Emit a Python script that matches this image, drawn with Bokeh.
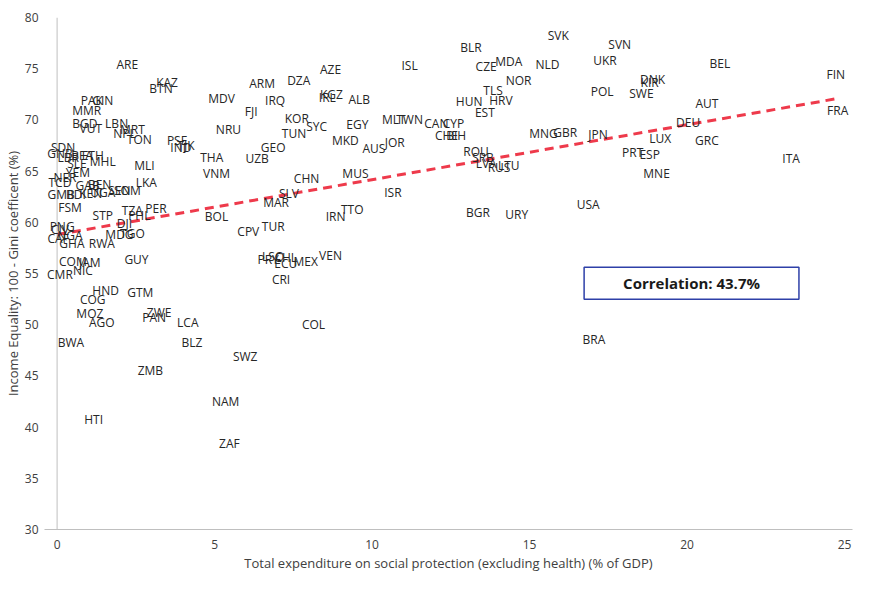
from bokeh.plotting import figure
from bokeh.models import ColumnDataSource, Range1d, LabelSet, Label, Span
from bokeh.core.properties import value
from bokeh.embed import file_html
from bokeh.resources import INLINE

codes = ["ARE","BTN","KAZ","PAK","GIN","MMR","BGD","VUT","LBN","NPL","MRT","TON","PSE","IND","TJK",
         "SDN","GNB","LBR","BFA","ETH","SLE","MHL","MLI","YEM","NER","TCD","GAB","BEN","SEN","SOM","LKA",
         "GMB","BDI","KEN","UGA","FSM","STP","TZA","PHL","PER","DJI","MDG","TGO","PNG","CIV","NGA","CAF",
         "GHA","RWA","COM","JAM","NIC","GUY","CMR","HND","GTM","COG","MOZ","AGO","ZWE","PAN","LCA","BWA",
         "BLZ","ZMB","HTI","NAM","ZAF","SWZ","COL","CRI","PRY","LSO","CHL","ECU","MEX","VEN","CPV","TUR",
         "BOL","IRN","TTO","MAR","SLV","ISR","CHN","MUS","VNM","THA","UZB","GEO","NRU","MKD","TUN","KOR",
         "SYC","EGY","FJI","MDV","IRQ","ARM","DZA","AZE","KGZ","IRL","ALB","AUS","JOR","MLT","TWN","ISL",
         "CAN","CYP","CHE","BIH","HUN","EST","TLS","HRV","BLR","CZE","MDA","NOR","NLD","SVK","SVN","UKR",
         "ROU","SRB","LVA","RUS","LTU","BGR","URY","USA","BRA","MNG","GBR","JPN","POL","SWE","DNK","KIR",
         "BEL","AUT","FIN","FRA","DEU","LUX","GRC","PRT","ESP","ITA","MNE"]

spending = [2.23,3.30,3.49,1.10,1.45,0.94,0.88,1.07,1.89,2.14,2.39,2.61,3.81,3.93,4.09,
            0.19,0.09,0.35,0.79,1.13,0.63,1.45,2.77,0.66,0.25,0.09,0.97,1.35,1.98,2.23,2.83,
            0.13,0.60,1.07,1.45,0.41,1.45,2.39,2.61,3.14,2.14,1.98,2.39,0.16,0.09,0.41,0.03,
            0.47,1.42,0.50,1.04,0.82,2.52,0.09,1.54,2.64,1.13,1.04,1.42,3.24,3.08,4.15,0.44,
            4.28,2.96,1.16,5.35,5.47,5.97,8.14,7.11,6.70,6.86,7.26,7.26,7.89,8.68,6.07,6.86,
            5.06,8.84,9.37,6.95,7.36,10.66,7.92,9.47,5.06,4.91,6.35,6.86,5.44,9.15,7.52,7.61,
            8.24,9.53,6.16,5.22,6.92,6.51,7.67,8.68,8.71,8.58,9.59,10.06,10.72,10.69,11.19,11.19,
            12.04,12.58,12.36,12.67,13.08,13.58,13.84,14.09,13.14,13.62,14.34,14.65,15.57,15.91,17.86,17.39,
            13.30,13.52,13.62,14.03,14.34,13.36,14.59,16.86,17.04,15.44,16.13,17.17,17.30,18.55,18.90,18.81,
            21.04,20.63,24.72,24.78,20.03,19.15,20.63,18.27,18.81,23.30,19.03]

equality = [75.45,73.07,73.64,71.94,71.94,70.89,69.66,69.18,69.66,68.71,69.09,68.05,67.95,67.29,67.48,
            67.29,66.72,66.34,66.53,66.53,65.77,65.96,65.58,64.82,64.35,63.87,63.59,63.68,63.11,63.11,63.87,
            62.73,62.73,62.83,62.92,61.40,60.65,61.12,60.65,61.31,59.89,58.84,58.94,59.60,59.32,58.75,58.37,
            57.89,57.89,56.19,56.09,55.33,56.38,54.86,53.34,53.15,52.49,51.06,50.21,51.16,50.68,50.21,48.22,
            48.22,45.56,40.72,42.52,38.44,46.89,50.02,54.38,56.38,56.66,56.57,56.00,56.19,56.76,59.13,59.60,
            60.55,60.55,61.21,61.97,62.83,62.92,64.25,64.72,64.72,66.34,66.24,67.29,69.09,67.95,68.71,70.13,
            69.37,69.56,70.80,72.13,71.94,73.55,73.83,74.88,72.50,72.22,72.03,67.19,67.76,70.04,70.04,75.35,
            69.66,69.66,68.43,68.52,71.75,70.70,72.88,71.94,77.06,75.26,75.73,73.83,75.45,78.20,77.34,75.83,
            66.91,66.34,65.77,65.39,65.58,60.93,60.74,61.69,48.60,68.71,68.80,68.61,72.79,72.60,73.93,73.64,
            75.54,71.65,74.40,70.89,69.75,68.14,67.95,66.81,66.62,66.24,64.72]

trend_x = [0.0, 24.8]
trend_y = [58.8, 72.1]

x_ticks = [0, 5, 10, 15, 20, 25]
y_ticks = [30, 35, 40, 45, 50, 55, 60, 65, 70, 75, 80]

corr_text = "Correlation: 43.7%"

FONT = "Open Sans"

p = figure(width=853, height=574, output_backend="svg", toolbar_location=None,
           x_range=Range1d(-0.4, 25.25), y_range=Range1d(30, 80),
           min_border_left=44, min_border_top=17, min_border_right=1, min_border_bottom=2)
p.outline_line_color = None
p.grid.grid_line_color = None
p.background_fill_color = "white"
p.border_fill_color = "white"

for ax in (p.xaxis, p.yaxis):
    ax.axis_line_color = "#BFBFBF"
    ax.axis_line_width = 1
    ax.major_tick_line_color = None
    ax.minor_tick_line_color = None
    ax.major_label_text_font = FONT
    ax.major_label_text_font_size = "12px"
    ax.major_label_text_color = "#404040"
    ax.axis_label_text_font = FONT
    ax.axis_label_text_font_size = "13px"
    ax.axis_label_text_color = "#404040"
    ax.axis_label_text_font_style = "normal"

p.yaxis.axis_line_color = None
p.xaxis.ticker = x_ticks
p.yaxis.ticker = y_ticks
p.xaxis.major_label_standoff = 4
p.yaxis.major_label_standoff = 0
p.xaxis.axis_label_standoff = 2
p.yaxis.axis_label_standoff = 0
p.xaxis.axis_label = "Total expenditure on social protection (excluding health) (% of GDP)"
p.yaxis.axis_label = "Income Equality: 100 - Gini coefficent (%)"

# vertical axis line drawn at x = 0
p.add_layout(Span(location=0, dimension="height", line_color="#BFBFBF", line_width=1))

src = ColumnDataSource(dict(x=spending, y=equality, t=codes))
labels = LabelSet(x="x", y="y", text="t", source=src, text_font=value(FONT), text_font_size="12px",
                  text_color="#262626", text_align="center", text_baseline="middle")
p.add_layout(labels)

p.line(trend_x, trend_y, line_color="#EE3A4B", line_width=3, line_dash="9 6")

# correlation box
p.quad(left=[16.73], right=[23.55], bottom=[52.49], top=[55.62],
       fill_color="white", line_color="#2E40A8", line_width=1.5)
p.add_layout(Label(x=20.14, y=54.05, text=corr_text, text_font=FONT, text_font_size="15px",
                   text_font_style="bold", text_color="#1a1a1a", text_align="center",
                   text_baseline="middle"))

open("out.html", "w").write(file_html(p, INLINE))
